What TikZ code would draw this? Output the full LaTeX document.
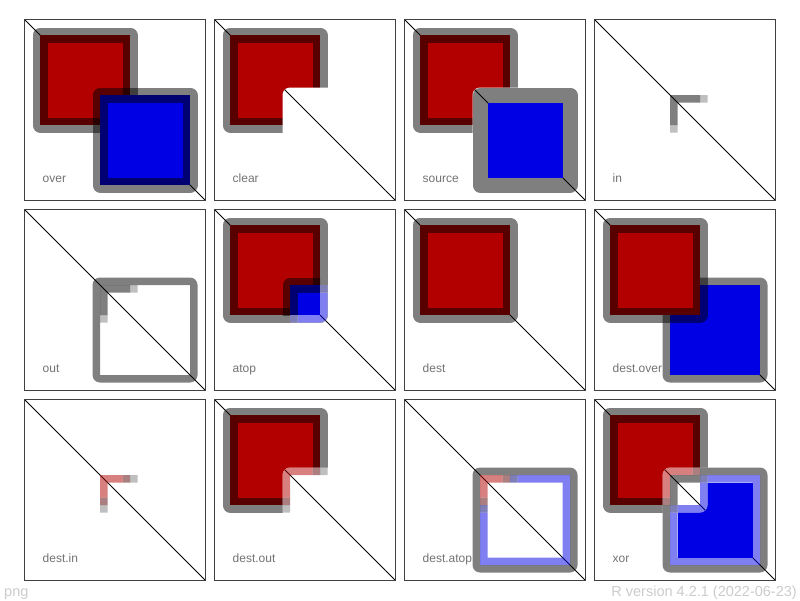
\documentclass[tikz,border=0pt]{standalone}
\usepackage{fontspec}
\setmainfont{Liberation Sans}
\definecolor{rr}{rgb}{0.7,0,0}
\definecolor{bb}{rgb}{0,0,0.9}
\definecolor{drr}{rgb}{0.35,0,0}
\definecolor{nvy}{rgb}{0,0,0.45}
\newcommand\eraseround[4]{%
  \fill[white,rounded corners=7.5pt] (#1,#2) rectangle (#3,#4);
  \begin{scope}\clip[rounded corners=7.5pt] (#1,#2) rectangle (#3,#4);
  \draw[diag] (0,0) -- (181,181);\end{scope}}
\begin{document}
\begin{tikzpicture}[x=1pt,y=-1pt,
  box/.style={draw=black!75,line width=0.8pt},
  diag/.style={draw=black,line width=0.75pt},
  rrect/.style={fill=rr,draw=black,draw opacity=0.5,line width=15pt,line join=round},
  brect/.style={fill=bb,draw=black,draw opacity=0.5,line width=15pt,line join=round},
  sstroke/.style={draw=black,draw opacity=0.5,line width=15pt,line join=round},
  opf/.style={fill opacity=0.5},
  opq/.style={fill opacity=0.25},
  lab/.style={anchor=base west,text=black!55,font=\fontsize{12}{14}\selectfont,inner sep=0pt},
  foot/.style={text=black!20,font=\fontsize{14.5}{16}\selectfont,inner sep=0pt}]
\useasboundingbox (0,0) rectangle (800,600);
\fill[white] (0,0) rectangle (800,600);

% ---- over
\begin{scope}[shift={(24.5,19.5)}]
\draw[diag] (0,0) -- (181,181);
\path[rrect] (15.5,15.5) rectangle (105.5,105.5);
\path[brect] (75.5,75.5) rectangle (165.5,165.5);
\draw[box] (0,0) rectangle (181,181);
\node[lab] (l1) at (18,163) {over};
\end{scope}

% ---- clear
\begin{scope}[shift={(214.5,19.5)}]
\draw[diag] (0,0) -- (181,181);
\path[rrect] (15.5,15.5) rectangle (105.5,105.5);
\eraseround{68}{68}{173}{173}
\draw[box] (0,0) rectangle (181,181);
\node[lab] (l2) at (18,163) {clear};
\end{scope}

% ---- source
\begin{scope}[shift={(404.5,19.5)}]
\draw[diag] (0,0) -- (181,181);
\path[rrect] (15.5,15.5) rectangle (105.5,105.5);
\eraseround{68}{68}{173}{173}
\fill[bb] (83,83) rectangle (158,158);
\path[sstroke] (75.5,75.5) rectangle (165.5,165.5);
\draw[box] (0,0) rectangle (181,181);
\node[lab] (l3) at (18,163) {source};
\end{scope}

% ---- in
\begin{scope}[shift={(594.5,19.5)}]
\draw[diag] (0,0) -- (181,181);
\fill[black,opf] (75.5,75.5) rectangle (105.5,83) (75.5,83) rectangle (83,105.5);
\fill[black,opq] (105.5,75.5) rectangle (113,83) (75.5,105.5) rectangle (83,113);
\draw[box] (0,0) rectangle (181,181);
\node[lab] (l4) at (18,163) {in};
\end{scope}

% ---- out
\begin{scope}[shift={(24.5,209.5)}]
\draw[diag] (0,0) -- (181,181);
\fill[black,opf,even odd rule] [rounded corners=7.5pt] (68,68) rectangle (173,173) [sharp corners] (75.5,75.5) rectangle (165.5,165.5);
\fill[black,opf] (75.5,75.5) rectangle (105.5,83) (75.5,83) rectangle (83,105.5);
\fill[black,opq] (105.5,75.5) rectangle (113,83) (75.5,105.5) rectangle (83,113);
\draw[box] (0,0) rectangle (181,181);
\node[lab] (l5) at (18,163) {out};
\end{scope}

% ---- atop
\begin{scope}[shift={(214.5,209.5)}]
\draw[diag] (0,0) -- (181,181);
\path[rrect] (15.5,15.5) rectangle (105.5,105.5);
\begin{scope}
\clip (15.5,15.5) rectangle (105.5,105.5);
\path[brect] (75.5,75.5) rectangle (165.5,165.5);
\end{scope}
\begin{scope}
\clip[rounded corners=7.5pt] (8,8) rectangle (113,113);
\fill[white] (105.5,83) rectangle (113,113) (83,105.5) rectangle (105.5,113);
\draw[diag] (105.5,105.5) -- (120,120);
\fill[bb,opf] (105.5,83) rectangle (113,113) (83,105.5) rectangle (105.5,113);
\end{scope}
\fill[white] (105.5,75.5) rectangle (113,83) (75.5,105.5) rectangle (83,113);
\fill[nvy,opf] (105.5,75.5) rectangle (113,83) (75.5,105.5) rectangle (83,113);
\draw[box] (0,0) rectangle (181,181);
\node[lab] (l6) at (18,163) {atop};
\end{scope}

% ---- dest
\begin{scope}[shift={(404.5,209.5)}]
\draw[diag] (0,0) -- (181,181);
\path[rrect] (15.5,15.5) rectangle (105.5,105.5);
\draw[box] (0,0) rectangle (181,181);
\node[lab] (l7) at (18,163) {dest};
\end{scope}

% ---- dest.over
\begin{scope}[shift={(594.5,209.5)}]
\draw[diag] (0,0) -- (181,181);
\fill[bb] (75.5,75.5) rectangle (165.5,165.5);
\fill[black,opf,even odd rule] [rounded corners=7.5pt] (68,68) rectangle (173,173) [sharp corners] (75.5,75.5) rectangle (165.5,165.5);
\path[rrect] (15.5,15.5) rectangle (105.5,105.5);
\draw[box] (0,0) rectangle (181,181);
\node[lab] (l8) at (18,163) {dest.over};
\end{scope}

% ---- dest.in
\begin{scope}[shift={(24.5,399.5)}]
\draw[diag] (0,0) -- (181,181);
\fill[rr,opf] (75.5,75.5) rectangle (98,83) (75.5,83) rectangle (83,98);
\fill[drr,opf] (98,75.5) rectangle (105.5,83) (75.5,98) rectangle (83,105.5);
\fill[black,opq] (105.5,75.5) rectangle (113,83) (75.5,105.5) rectangle (83,113);
\draw[box] (0,0) rectangle (181,181);
\node[lab] (l9) at (18,163) {dest.in};
\end{scope}

% ---- dest.out
\begin{scope}[shift={(214.5,399.5)}]
\draw[diag] (0,0) -- (181,181);
\path[rrect] (15.5,15.5) rectangle (105.5,105.5);
\eraseround{68}{68}{173}{173}
\begin{scope}
\clip[rounded corners=7.5pt] (68,68) rectangle (173,173);
\fill[rr,opf] (68,68) rectangle (98,75.5) (68,75.5) rectangle (75.5,98);
\fill[drr,opf] (98,68) rectangle (105.5,75.5) (68,98) rectangle (75.5,105.5);
\fill[black,opq] (105.5,68) rectangle (113,75.5) (68,105.5) rectangle (75.5,113);
\end{scope}
\draw[box] (0,0) rectangle (181,181);
\node[lab] (l10) at (18,163) {dest.out};
\end{scope}

% ---- dest.atop
\begin{scope}[shift={(404.5,399.5)}]
\draw[diag] (0,0) -- (181,181);
\fill[black,opf,even odd rule] [rounded corners=7.5pt] (68,68) rectangle (173,173) [sharp corners] (75.5,75.5) rectangle (165.5,165.5);
\fill[rr,opf] (75.5,75.5) rectangle (98,83) (75.5,83) rectangle (83,98);
\fill[drr,opf] (98,75.5) rectangle (105.5,83) (75.5,98) rectangle (83,105.5);
\fill[nvy,opf] (105.5,75.5) rectangle (113,83) (75.5,105.5) rectangle (83,113);
\fill[bb,opf] (113,75.5) rectangle (165.5,83) (158,83) rectangle (165.5,165.5) (75.5,158) rectangle (158,165.5) (75.5,113) rectangle (83,158);
\draw[box] (0,0) rectangle (181,181);
\node[lab] (l11) at (18,163) {dest.atop};
\end{scope}

% ---- xor
\begin{scope}[shift={(594.5,399.5)}]
\draw[diag] (0,0) -- (181,181);
\path[rrect] (15.5,15.5) rectangle (105.5,105.5);
\eraseround{68}{68}{173}{173}
\begin{scope}
\clip[rounded corners=7.5pt] (68,68) rectangle (173,173);
\fill[black,opf] (105.5,68) rectangle (173,75.5) (68,105.5) rectangle (75.5,173) (165.5,75.5) rectangle (173,173) (75.5,165.5) rectangle (165.5,173);
\fill[rr,opf] (68,68) rectangle (98,75.5) (68,75.5) rectangle (75.5,98);
\fill[drr,opf] (98,68) rectangle (105.5,75.5) (68,98) rectangle (75.5,105.5);
\end{scope}
\fill[black,opf] (75.5,75.5) rectangle (105.5,83) (75.5,83) rectangle (83,105.5);
\fill[nvy,opf] (105.5,75.5) rectangle (113,83) (75.5,105.5) rectangle (83,113);
\fill[bb,opf] (113,75.5) rectangle (165.5,83) (158,83) rectangle (165.5,165.5) (75.5,158) rectangle (158,165.5) (75.5,113) rectangle (83,158);
\fill[bb] (83,83) rectangle (158,158);
\begin{scope}
\clip[rounded corners=7.5pt] (8,8) rectangle (113,113);
\fill[white] (83,83) rectangle (113,113);
\draw[diag] (83,83) -- (120,120);
\fill[bb,opf] (105.5,83) rectangle (113,113) (83,105.5) rectangle (105.5,113);
\end{scope}
\draw[box] (0,0) rectangle (181,181);
\node[lab] (l12) at (18,163) {xor};
\end{scope}

\node[foot,anchor=base west] (png) at (4,596) {png};
\node[foot,anchor=base east] (ver) at (797,596) {R version 4.2.1 (2022-06-23)};
\end{tikzpicture}
\end{document}
